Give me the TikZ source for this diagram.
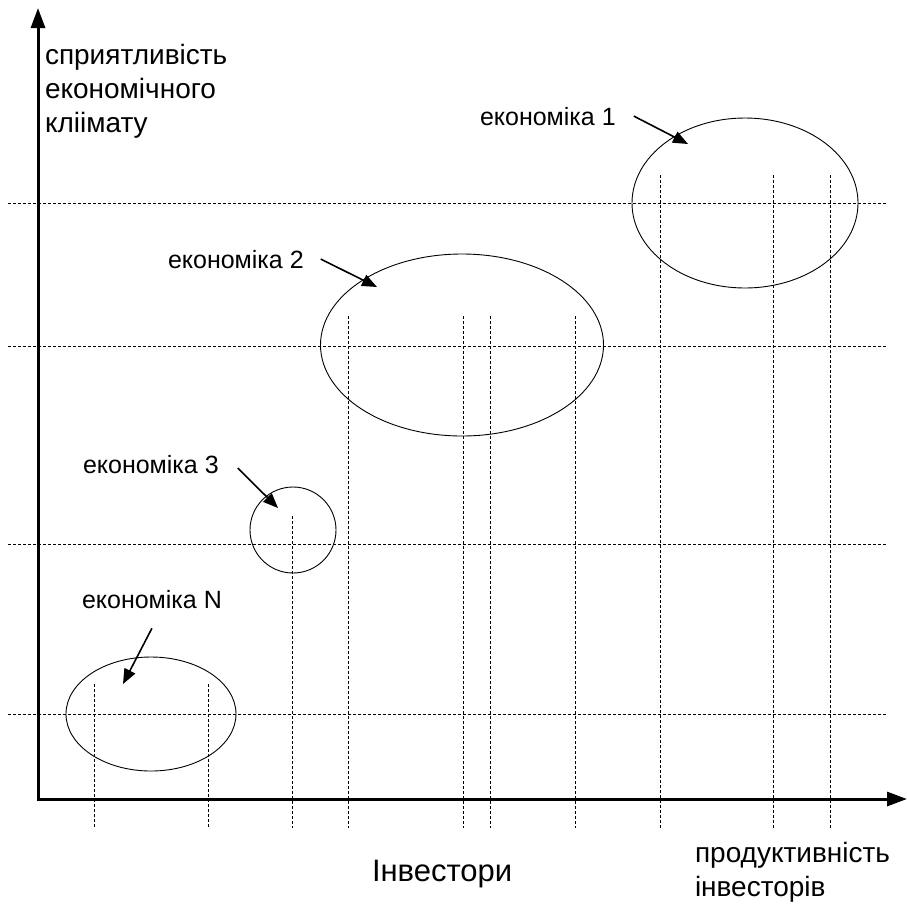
\documentclass[tikz,border=0pt]{standalone}
\usepackage{fontspec}
\setmainfont{Liberation Sans}
\usetikzlibrary{positioning, arrows.meta, shapes.geometric}

\begin{document}
\begin{tikzpicture}[x=1pt, y=-1pt,
every node/.style = {inner sep=0pt, outer sep=0pt},
        lbl/.style = {font=\fontsize{25}{30}\selectfont, anchor=base west},
      axlbl/.style = {font=\fontsize{28}{34}\selectfont, align=left, anchor=base west},
       oval/.style = {ellipse, draw, line width=0.9pt},
      guide/.style = {dash pattern=on 3pt off 2pt, line width=0.8pt},
       axis/.style = {line width=3pt, -{Triangle[length=20pt,width=14pt]}},
    pointer/.style = {line width=1.6pt, -{Triangle[length=15pt,width=12pt]}}
                        ]
\useasboundingbox (0,0) rectangle (907,903);
% horizontal guides
\draw[guide] (8,203) -- (886,203);
\draw[guide] (8,346) -- (886,346);
\draw[guide] (8,544) -- (886,544);
\draw[guide] (8,714) -- (886,714);
% vertical guides
\draw[guide] (94,684) -- (94,828);
\draw[guide] (208,684) -- (208,828);
\draw[guide] (292,516) -- (292,828);
\draw[guide] (348,316) -- (348,828);
\draw[guide] (463,316) -- (463,828);
\draw[guide] (490,316) -- (490,828);
\draw[guide] (575,316) -- (575,828);
\draw[guide] (660,175) -- (660,828);
\draw[guide] (773,175) -- (773,828);
\draw[guide] (830,175) -- (830,828);
% axes
\coordinate (o)    at (38,799);
\coordinate (ytop) at (38,8);
\coordinate (xend) at (907,799);
\draw[axis] ([yshift=-1.5pt]o) -- (ytop);
\draw[axis] ([xshift=-1.5pt]o) -- (xend);
% economies
\node (e1) [oval, minimum width=226, minimum height=170] at (745,203) {};
\node (e2) [oval, minimum width=283, minimum height=182] at (462,345) {};
\node (e3) [oval, minimum width=86, minimum height=86] at (293,530) {};
\node (eN) [oval, minimum width=170, minimum height=114] at (151,714) {};
% labels
\node (l1) [lbl] at (480,125) {економіка 1};
\node (l2) [lbl] at (168,268) {економіка 2};
\node (l3) [lbl] at (83,473) {економіка 3};
\node (lN) [lbl] at (82,608) {економіка N};
\node (ylab) [axlbl] at (45,132) {сприятливість\\економічного\\кліімату};
\node (xlab) [axlbl] at (695,896) {продуктивність\\інвесторів};
\node (inv) [font=\fontsize{31}{36}\selectfont, anchor=base west] at (372,881) {Інвестори};
% pointers
\coordinate (t1) at (688,144);
\coordinate (t2) at (377,287);
\coordinate (t3) at (278,508);
\coordinate (tN) at (123,684);
\draw[pointer] ([xshift=18pt]l1.east) -- (t1);
\draw[pointer] ([xshift=17pt]l2.east) -- (t2);
\draw[pointer] ([xshift=19pt,yshift=-4pt]l3.east) -- (t3);
\draw[pointer] ([yshift=-20pt]lN.south) -- (tN);
\end{tikzpicture}
\end{document}
